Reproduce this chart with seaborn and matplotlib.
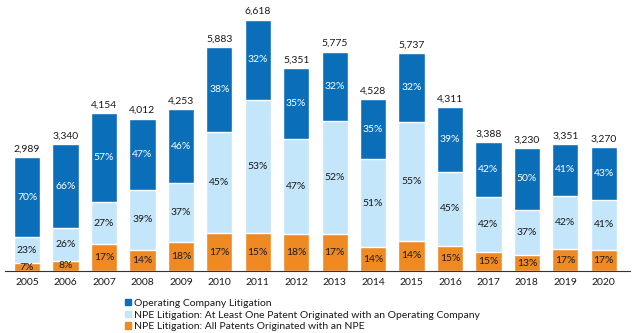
import matplotlib
matplotlib.use("Agg")
import matplotlib.pyplot as plt
import seaborn as sns
import numpy as np
import pandas as pd

years = ["2005", "2006", "2007", "2008", "2009", "2010", "2011", "2012",
         "2013", "2014", "2015", "2016", "2017", "2018", "2019", "2020"]
totals = [2989, 3340, 4154, 4012, 4253, 5883, 6618, 5351,
          5775, 4528, 5737, 4311, 3388, 3230, 3351, 3270]
pct_opco = [70, 66, 57, 47, 46, 38, 32, 35, 32, 35, 32, 39, 42, 50, 41, 43]
pct_npe_oc = [23, 26, 27, 39, 37, 45, 53, 47, 52, 51, 55, 45, 42, 37, 42, 41]
pct_npe_all = [7, 8, 17, 14, 18, 17, 15, 18, 17, 14, 14, 15, 15, 13, 17, 17]
labels = ["Operating Company Litigation",
          "NPE Litigation: At Least One Patent Originated with an Operating Company",
          "NPE Litigation: All Patents Originated with an NPE"]

c_dark = "#0A6EB8"
c_light = "#C4E6FA"
c_orange = "#EF8A22"

sns.set_theme(style="white")
plt.rcParams["font.family"] = ["Lato", "DejaVu Sans"]

tot = np.array(totals, float)
p1 = np.array(pct_opco, float)
p2 = np.array(pct_npe_oc, float)
p3 = np.array(pct_npe_all, float)
s = p1 + p2 + p3
h3 = tot * p3 / s
h2 = tot * p2 / s
h1 = tot * p1 / s

df = pd.DataFrame({"year": years, "total": tot, "lower2": h3 + h2, "lower1": h3})

fig = plt.figure(figsize=(6.4, 3.33), dpi=100)
ax = fig.add_axes([0.008, 0.186, 0.976, 0.799])
w = 0.68
sns.barplot(data=df, x="year", y="total", color=c_dark, width=w, saturation=1, ax=ax)
sns.barplot(data=df, x="year", y="lower2", color=c_light, width=w, saturation=1, ax=ax)
sns.barplot(data=df, x="year", y="lower1", color=c_orange, width=w, saturation=1, ax=ax)

fs = 7.5
for i in range(len(years)):
    ax.text(i, tot[i] + 90, f"{totals[i]:,}", ha="center", va="bottom", fontsize=fs, color="#1a1a1a")
    ax.text(i, h3[i] + h2[i] + h1[i] / 2, f"{pct_opco[i]}%", ha="center", va="center", fontsize=fs, color="white")
    ax.text(i, h3[i] + h2[i] / 2, f"{pct_npe_oc[i]}%", ha="center", va="center", fontsize=fs, color="#1a1a1a")
    ax.text(i, h3[i] / 2, f"{pct_npe_all[i]}%", ha="center", va="center", fontsize=fs, color="#1a1a1a")

ax.set_xlim(-0.572, 15.676)
ax.set_ylim(0, 7000)
ax.set_xlabel("")
ax.set_ylabel("")
ax.set_yticks([])
for sp in ["top", "right", "left"]:
    ax.spines[sp].set_visible(False)
ax.spines["bottom"].set_color("#333333")
ax.spines["bottom"].set_linewidth(0.8)
ax.tick_params(axis="x", length=0, labelsize=fs, colors="#1a1a1a", pad=5)

from matplotlib.patches import Patch
handles = [Patch(color=c) for c in (c_dark, c_light, c_orange)]
fig.legend(handles, labels, loc="upper left", bbox_to_anchor=(0.195, 0.102),
           frameon=False, fontsize=fs, handlelength=0.55, handleheight=0.55,
           handletextpad=0.3, labelspacing=0.25, borderaxespad=0, borderpad=0,
           labelcolor="#1a1a1a")

fig.savefig("out.png", dpi=100)
